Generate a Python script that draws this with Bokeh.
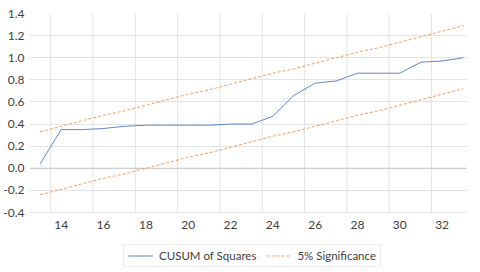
from bokeh.plotting import figure
from bokeh.models import FixedTicker, PrintfTickFormatter, Span, Legend, LegendItem
from bokeh.core.properties import value
from bokeh.embed import file_html
from bokeh.resources import INLINE

periods = list(range(13, 34))
cusum = [0.04, 0.35, 0.35, 0.36, 0.38, 0.39, 0.39, 0.39, 0.39, 0.40, 0.40,
         0.47, 0.66, 0.77, 0.79, 0.86, 0.86, 0.86, 0.96, 0.97, 1.00]
upper = [0.33, 0.38, 0.43, 0.48, 0.52, 0.57, 0.62, 0.67, 0.71, 0.76, 0.81,
         0.86, 0.90, 0.95, 1.00, 1.05, 1.09, 1.14, 1.19, 1.24, 1.29]
lower = [-0.24, -0.19, -0.14, -0.09, -0.05, 0.00, 0.05, 0.10, 0.14, 0.19, 0.24,
         0.29, 0.33, 0.38, 0.43, 0.48, 0.52, 0.57, 0.62, 0.67, 0.72]
x_ticks = [14, 16, 18, 20, 22, 24, 26, 28, 30, 32]
x_labels = ["14", "16", "18", "20", "22", "24", "26", "28", "30", "32"]
y_ticks = [-0.4, -0.2, 0.0, 0.2, 0.4, 0.6, 0.8, 1.0, 1.2, 1.4]
x_grid = [13.5, 15.5, 17.5, 19.5, 21.5, 23.5, 25.5, 27.5, 29.5, 31.5]

FONT = "Lato"
TXT = "#404040"
GRID = "#E3E3E3"

y_lo, y_hi = y_ticks[0], y_ticks[-1]
plot_px = 199
frame_h = 255
y_start = y_hi - (y_hi - y_lo) * frame_h / plot_px

p = figure(frame_width=438, frame_height=frame_h, output_backend="svg", toolbar_location=None,
           x_range=(12.5, 33.2), y_range=(y_start, y_hi),
           min_border_left=26, min_border_right=0, min_border_top=13, min_border_bottom=0)
p.outline_line_color = None
p.background_fill_color = "white"
p.xaxis.visible = False
p.xgrid.visible = False

ax = p.yaxis[0]
ax.axis_line_color = None
ax.major_tick_line_color = None
ax.minor_tick_line_color = None
ax.major_tick_out = 0
ax.major_tick_in = 0
ax.minor_tick_out = 0
ax.minor_tick_in = 0
ax.major_label_text_font = FONT
ax.major_label_text_font_size = "12px"
ax.major_label_text_color = TXT
ax.ticker = FixedTicker(ticks=y_ticks)
ax.formatter = PrintfTickFormatter(format="%.1f")
ax.major_label_standoff = 5

p.ygrid.ticker = FixedTicker(ticks=y_ticks)
p.ygrid.grid_line_color = GRID

# vertical gridlines between category pairs
p.segment(x0=x_grid, y0=[y_lo] * len(x_grid), x1=x_grid, y1=[y_hi] * len(x_grid),
          line_color=GRID, line_width=1, level="underlay")

zero = Span(location=0, dimension="width", line_color="#C8C8C8", line_width=1, level="underlay")
p.add_layout(zero)

# category labels under the plot area
p.text(x=x_ticks, y=[y_lo] * len(x_ticks), text=x_labels, y_offset=8,
       text_align="center", text_baseline="top", text_font=value(FONT),
       text_font_size="12px", text_color=TXT)

r1 = p.line(periods, cusum, line_color="#4472C4", line_width=1, line_alpha=0.85)
r2 = p.line(periods, upper, line_color="#ED7D31", line_width=0.9, line_alpha=0.85, line_dash="3 2")
r3 = p.line(periods, lower, line_color="#ED7D31", line_width=0.9, line_alpha=0.85, line_dash="3 2")

legend = Legend(items=[LegendItem(label="CUSUM of Squares", renderers=[r1]),
                       LegendItem(label="5% Significance", renderers=[r2])],
                orientation="horizontal", location=(94, 1))
legend.border_line_color = "#D9D9D9"
legend.border_line_width = 1
legend.background_fill_color = "white"
legend.padding = 4
legend.margin = 0
legend.spacing = 10
legend.glyph_width = 25
legend.glyph_height = 13
legend.label_height = 13
legend.label_standoff = 6
legend.label_text_font = FONT
legend.label_text_font_size = "11.5px"
legend.label_text_color = TXT
p.add_layout(legend)

open("out.html", "w").write(file_html(p, INLINE))
